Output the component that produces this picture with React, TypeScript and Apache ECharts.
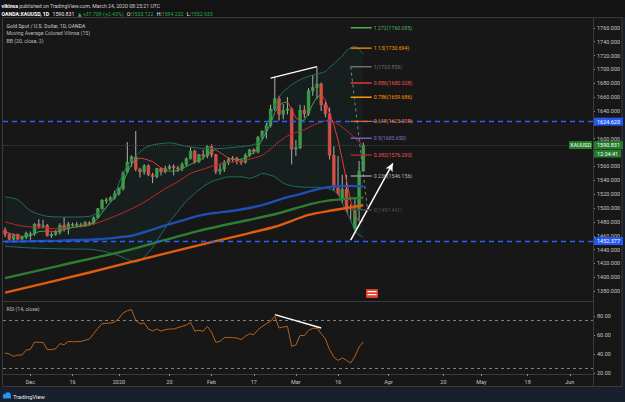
import React, { useEffect, useRef } from "react";
import * as echarts from "echarts";

const FONT = 'Roboto, "Noto Sans", "DejaVu Sans", sans-serif';
const BG = "#171717";

// ---------- categories: daily bars (weekdays, no bar on these days)
const FIRST_DAY = "2019-11-22";
const NO_BAR_DAYS = ["2019-12-25", "2020-01-01"];
const BAR_SLOTS = 140;

function tradingDays(): string[] {
  const out: string[] = [];
  const d = new Date(FIRST_DAY + "T00:00:00Z");
  while (out.length < BAR_SLOTS) {
    const wd = d.getUTCDay();
    const s = d.toISOString().slice(0, 10);
    if (wd !== 0 && wd !== 6 && NO_BAR_DAYS.indexOf(s) < 0) out.push(s);
    d.setUTCDate(d.getUTCDate() + 1);
  }
  return out;
}
const dates = tradingDays();

const timeTicks: Record<string, string> = {
  "2019-12-02": "Dec", "2019-12-16": "16", "2020-01-02": "2020", "2020-01-20": "20",
  "2020-02-03": "Feb", "2020-02-17": "17", "2020-03-02": "Mar", "2020-03-16": "16",
  "2020-04-01": "Apr", "2020-04-20": "20", "2020-05-01": "May", "2020-05-18": "18",
  "2020-06-01": "Jun",
};

// ---------- OHLC (XAUUSD daily)
const opens = [
  1468, 1462, 1455, 1462, 1455, 1458, 1460, 1463, 1477, 1474,
  1475, 1460, 1462, 1465, 1475, 1470, 1476, 1476, 1476, 1474,
  1479, 1478, 1486, 1499, 1510, 1511, 1515, 1521, 1528, 1552,
  1566, 1574, 1556, 1552, 1561, 1548, 1545, 1557, 1552, 1557,
  1560, 1558, 1557, 1563, 1571, 1582, 1567, 1577, 1575, 1589,
  1577, 1553, 1556, 1566, 1570, 1572, 1568, 1566, 1576, 1584,
  1581, 1602, 1611, 1619, 1644, 1658, 1635, 1641, 1643, 1585,
  1587, 1641, 1636, 1669, 1674, 1679, 1649, 1636, 1576, 1529,
  1514, 1527, 1478, 1470, 1498, 1553.122,
];
const highs = [
  1472, 1464, 1463, 1463, 1460, 1466, 1466, 1478, 1484, 1483,
  1477, 1465, 1468, 1478, 1487, 1480, 1479, 1480, 1479, 1481,
  1481, 1488, 1500, 1513, 1515, 1517, 1525, 1530, 1553, 1595,
  1576, 1611, 1558, 1563, 1563, 1551, 1558, 1558, 1561, 1563,
  1563, 1561, 1566, 1573, 1588, 1584, 1578, 1584, 1591, 1592,
  1578, 1563, 1569, 1573, 1575, 1574, 1571, 1579, 1585, 1586,
  1604, 1612, 1623, 1649, 1689, 1662, 1650, 1660, 1645, 1598,
  1649, 1648, 1673, 1692, 1704, 1681, 1653, 1645, 1589, 1575,
  1548, 1548, 1505, 1516, 1568, 1594.232,
];
const lows = [
  1458, 1452, 1452, 1454, 1454, 1455, 1454, 1460, 1470, 1471,
  1459, 1457, 1460, 1462, 1466, 1462, 1473, 1472, 1472, 1473,
  1474, 1476, 1485, 1498, 1506, 1508, 1512, 1518, 1525, 1550,
  1560, 1553, 1544, 1548, 1546, 1536, 1543, 1547, 1550, 1555,
  1547, 1552, 1553, 1560, 1570, 1564, 1565, 1570, 1572, 1573,
  1549, 1548, 1552, 1562, 1566, 1563, 1562, 1564, 1574, 1578,
  1579, 1598, 1600, 1616, 1640, 1626, 1628, 1635, 1563, 1575,
  1585, 1630, 1633, 1662, 1657, 1640, 1631, 1570, 1504, 1452.377,
  1467, 1470, 1460, 1466, 1482, 1552.933,
];
const closes = [
  1462, 1455, 1462, 1455, 1458, 1464, 1463, 1477, 1474, 1475,
  1460, 1462, 1465, 1475, 1470, 1477, 1476.5, 1476.5, 1474, 1479,
  1478, 1486, 1499, 1511, 1512, 1515, 1521, 1528, 1551, 1566,
  1574, 1556, 1552, 1561, 1548, 1545, 1557, 1552, 1557, 1560,
  1558, 1557, 1563, 1571, 1582, 1567, 1577, 1575, 1589, 1577,
  1553, 1556, 1566, 1570, 1572, 1568, 1566, 1576, 1584, 1581,
  1602, 1611, 1619, 1643, 1658, 1635, 1641, 1643, 1585, 1587,
  1641, 1636, 1669, 1674, 1679, 1649, 1636, 1576, 1529, 1514,
  1527, 1478, 1470, 1498, 1553.122, 1590.831,
];

// ---------- RSI (14, close)
const rsi = [
  41.0, 40.0, 37.5, 38.9, 38.9, 44.2, 44.9, 52.6, 52.3, 52.3,
  44.6, 44.6, 45.6, 50.9, 49.8, 53.3, 53.0, 53.0, 53.3, 54.4,
  55.8, 61.4, 67.0, 71.9, 72.3, 72.6, 73.7, 77.5, 83.2, 85.6,
  86.7, 75.4, 71.9, 72.6, 66.3, 64.2, 66.3, 64.2, 65.6, 66.3,
  66.3, 67.7, 69.1, 70.5, 73.3, 64.2, 64.9, 63.9, 69.1, 62.8,
  52.3, 53.3, 57.2, 57.5, 57.2, 56.8, 55.1, 58.6, 61.4, 60.3,
  65.6, 69.1, 71.9, 74.4, 79.6, 67.4, 68.4, 69.1, 48.1, 49.5,
  59.6, 59.3, 64.9, 67.0, 67.4, 61.4, 55.8, 44.6, 36.8, 33.3,
  35.8, 33.3, 30.5, 37.5, 47.4, 52.6,
];

// ---------- indicator lines: [bar index, price]
const bbUpper: [number, number][] = [
  [0, 1516], [3, 1512], [6, 1496], [10, 1488], [15, 1487], [20, 1488], [22, 1493], [24, 1501],
  [26, 1520], [27, 1536], [28, 1550], [29, 1561], [31, 1575], [33, 1586], [35, 1591], [37, 1593],
  [39, 1594], [41, 1592], [43, 1589], [47, 1586], [51, 1586], [55, 1588], [58, 1590], [60, 1594],
  [61, 1602], [62, 1616], [63, 1634], [64, 1648], [65, 1660], [66, 1668], [67, 1673], [68, 1678],
  [70, 1685], [72, 1690], [74, 1693], [76, 1697], [77, 1703], [78, 1708], [79, 1714], [80, 1719],
  [81, 1727], [82, 1731], [83, 1733], [84, 1729], [85, 1722],
];
const bbBasis: [number, number][] = [
  [0, 1480], [4, 1474], [8, 1472], [12, 1470], [16, 1472], [20, 1475], [23, 1481], [26, 1488],
  [29, 1496], [32, 1505], [35, 1516], [38, 1528], [41, 1538], [44, 1550], [47, 1556], [50, 1562],
  [53, 1566], [56, 1568], [59, 1572], [61, 1576], [63, 1585], [65, 1596], [67, 1604], [69, 1609],
  [71, 1613], [73, 1619], [75, 1624], [77, 1627], [79, 1621], [81, 1612], [83, 1601], [85, 1590],
];
const bbLower: [number, number][] = [
  [0, 1445], [4, 1443], [8, 1442], [14, 1441], [20, 1440.5], [23, 1438], [25, 1435], [27, 1431],
  [29, 1426], [31, 1422], [32, 1424], [33, 1429], [35, 1443], [37, 1462], [39, 1480], [41, 1495],
  [43, 1510], [45, 1521], [47, 1531], [49, 1538], [51, 1542], [53, 1545], [56, 1545], [58, 1543],
  [60, 1547], [61, 1550], [62, 1549], [64, 1545], [66, 1536], [68, 1532], [71, 1530], [74, 1530],
  [76, 1529], [78, 1525], [79, 1519], [80, 1507], [81, 1494], [82, 1482], [83, 1467], [84, 1461],
  [85, 1458],
];
const maColored: [number, number][] = [
  [0, 1466], [2, 1462], [4, 1459], [6, 1460], [8, 1466], [10, 1467], [12, 1466], [14, 1469],
  [16, 1472], [18, 1474], [20, 1476], [21, 1479], [22, 1485], [23, 1493], [24, 1501], [25, 1508],
  [26, 1515], [27, 1524], [28, 1537], [29, 1551], [30, 1563], [31, 1570], [32, 1572], [33, 1571],
  [35, 1567], [37, 1558], [39, 1553], [41, 1554], [43, 1560], [45, 1566], [47, 1572], [49, 1582],
  [50, 1584], [51, 1580], [53, 1572], [55, 1569], [57, 1572], [59, 1580], [60, 1588], [61, 1598],
  [62, 1610], [63, 1622], [64, 1638], [65, 1648], [66, 1652], [67, 1653], [68, 1642], [69, 1630],
  [70, 1626], [71, 1627], [72, 1637], [73, 1650], [74, 1660], [75, 1663], [76, 1656], [77, 1636],
  [78, 1620], [79, 1598], [80, 1570], [81, 1540], [82, 1510], [83, 1490], [84, 1480], [85, 1482],
];
const maBlue: [number, number][] = [
  [0, 1451.5], [13, 1453], [22, 1455], [26, 1457], [30, 1460], [34, 1467], [38, 1475], [42, 1482],
  [46, 1489], [50, 1493], [54, 1496], [58, 1500], [62, 1506], [66, 1514], [70, 1520], [74, 1527],
  [78, 1531], [82, 1532], [85, 1531],
];
const maGreen: [number, number][] = [
  [0, 1399], [13, 1417], [29, 1439], [38, 1454], [46, 1467], [54, 1478], [64, 1491], [72, 1505],
  [77, 1511], [85, 1515],
];
const maOrange: [number, number][] = [
  [0, 1378], [20, 1407], [41, 1439], [56, 1461], [64, 1473], [72, 1490], [77, 1496], [85, 1504],
];

// ---------- axes ticks (labels hidden behind the price tags are left out)
const priceTicks = [
  1380, 1400, 1420, 1440, 1460, 1480, 1500, 1520, 1540, 1560,
  1580, 1600, 1620, 1640, 1660, 1680, 1700, 1720, 1740, 1760,
];
const priceLabels = priceTicks.filter((v) => v !== 1580 && v !== 1620);
const rsiTicks = [20, 40, 60, 80];
const rsiBands = [75, 25];

// ---------- drawings
const resistanceLevel = 1624.62;
const supportLevel = 1452.377;
const fibLevels = ["1.272", "1.13", "1", "0.886", "0.786", "0.618", "0.5", "0.382", "0.236", "0"];
const fibPrices = [1760.085, 1730.694, 1703.859, 1680.328, 1659.686, 1625.008, 1600.65, 1576.293, 1546.156, 1497.441];
const fibLineColors = ["#4caf50", "#ff9800", "#6e6e6e", "#e53935", "#ff9800", "#e8681a", "#7e57c2", "#c62828", "#8f8f8f", "#4a4a4a"];
const fibTextColors = ["#4caf50", "#ff9800", "#6e6e6e", "#ef5350", "#ff9800", "#f07a22", "#8e6bd0", "#ef5350", "#b5b5b5", "#4f4f4f"];
const fibSpan = [82, 87];
const fibTrend: [number, number][] = [[82, 1703.859], [86, 1497.441]];
const wedgeTop: [number, number][] = [[63, 1687.3], [74, 1704]];
const arrowFrom: [number, number] = [82, 1453.7];
const arrowTo: [number, number] = [92, 1564.5];
const rsiDivergence: [number, number][] = [[64, 81.4], [75, 67.4]];

const UP = "#3f9b44";
const DOWN = "#e8453c";

function colorRuns(pts: [number, number][]) {
  const out: { up: boolean; pts: [number, number][] }[] = [];
  let curUp = pts[1][1] >= pts[0][1];
  let cur: [number, number][] = [pts[0]];
  for (let j = 1; j < pts.length; j++) {
    const up = pts[j][1] >= pts[j - 1][1];
    if (up !== curUp) {
      out.push({ up: curUp, pts: cur });
      cur = [pts[j - 1]];
      curUp = up;
    }
    cur.push(pts[j]);
  }
  out.push({ up: curUp, pts: cur });
  return out;
}

export default function App() {
  const ref = useRef<HTMLDivElement>(null);

  useEffect(() => {
    const el = ref.current!;
    const chart = echarts.init(el, null, { renderer: "svg" });
    const n = closes.length;
    const candleData = closes.map((c, i) => [i, opens[i], c, lows[i], highs[i]]);
    const showTick = (_: number, v: string) => timeTicks[v] !== undefined;

    const line = (data: any[], color: string, width: number, extra: any = {}) => ({
      type: "line", xAxisIndex: 0, yAxisIndex: 0, data, symbol: "none", silent: true,
      lineStyle: { color, width }, smooth: 0.25, ...extra,
    });

    const series: any[] = [
      line(bbUpper, "#1f6e69", 1, { areaStyle: { color: "rgba(32,150,140,0.09)", origin: "start" } }),
      line(bbLower, "#1f6e69", 1, { areaStyle: { color: BG, opacity: 1, origin: "start" } }),
      {
        type: "line", xAxisIndex: 0, yAxisIndex: 0, data: [], silent: true,
        markLine: {
          silent: true, symbol: ["none", "none"], label: { show: false },
          data: [
            { yAxis: resistanceLevel, lineStyle: { color: "#2962ff", width: 1.3, type: [5, 4] } },
            { yAxis: supportLevel, lineStyle: { color: "#2962ff", width: 1.3, type: [5, 4] } },
            { yAxis: closes[n - 1], lineStyle: { color: "#3e5a3e", width: 0.8, type: [1, 1] } },
          ],
        },
      },
      line(maOrange, "#e35d0e", 2.4),
      line(maGreen, "#2e7d32", 2.4),
      line(maBlue, "#1f4fb0", 2.4),
      {
        type: "custom", xAxisIndex: 0, yAxisIndex: 0, data: candleData,
        encode: { x: 0, y: [1, 2, 3, 4] }, silent: true,
        renderItem: (_p: any, api: any) => {
          const i = api.value(0);
          const o = api.value(1), c = api.value(2), l = api.value(3), h = api.value(4);
          const pO = api.coord([i, o]);
          const pC = api.coord([i, c]);
          const pL = api.coord([i, l]);
          const pH = api.coord([i, h]);
          const bw = api.size([1, 0])[0] * 0.66;
          const up = c >= o;
          const top = Math.min(pO[1], pC[1]);
          const hh = Math.max(1, Math.abs(pO[1] - pC[1]));
          return {
            type: "group",
            children: [
              { type: "line", shape: { x1: pO[0], y1: pH[1], x2: pO[0], y2: pL[1] }, style: { stroke: "#d8d8d8", lineWidth: 0.8 } },
              { type: "rect", shape: { x: pO[0] - bw / 2, y: top, width: bw, height: hh }, style: { fill: up ? UP : DOWN, stroke: up ? "#56b55a" : "#f06a62", lineWidth: 0.4 } },
            ],
          };
        },
      },
      line(bbBasis, "#c62828", 1),
      ...colorRuns(maColored).map((r) =>
        line(r.pts, r.up ? "#43a047" : "#e53935", 1, { smooth: false })
      ),
      ...fibLevels.map((lv, k) => ({
        type: "line", xAxisIndex: 0, yAxisIndex: 0, symbol: "none", silent: true,
        data: [[fibSpan[0], fibPrices[k]], [fibSpan[1], fibPrices[k]]],
        lineStyle: { color: fibLineColors[k], width: 1.4 },
        endLabel: {
          show: true, formatter: `${lv}(${fibPrices[k].toFixed(3)})`, color: fibTextColors[k],
          fontSize: 5.2, fontFamily: FONT, distance: 2,
        },
        z: 5,
      })),
      line(fibTrend, "#8a8a8a", 0.9, { smooth: false, lineStyle: { color: "#8a8a8a", width: 0.9, type: [3, 3] }, z: 5 }),
      line(wedgeTop, "#ffffff", 1.4, { smooth: false, z: 6 }),
      {
        type: "line", xAxisIndex: 0, yAxisIndex: 0, data: [], silent: true, z: 6,
        markLine: {
          silent: true, symbol: ["none", "arrow"], symbolSize: [6, 8], label: { show: false },
          lineStyle: { color: "#ffffff", width: 1.5, type: "solid" },
          data: [[{ coord: [dates[arrowFrom[0]], arrowFrom[1]] }, { coord: [dates[arrowTo[0]], arrowTo[1]] }]],
        },
      },
      // RSI pane
      {
        type: "line", xAxisIndex: 1, yAxisIndex: 1, data: rsi, symbol: "none", silent: true,
        lineStyle: { color: "#b8621b", width: 1 },
        markLine: {
          silent: true, symbol: ["none", "none"], label: { show: false },
          lineStyle: { color: "#9a9a9a", width: 0.8, type: [3, 3] },
          data: rsiBands.map((b) => ({ yAxis: b })),
        },
      },
      {
        type: "line", xAxisIndex: 1, yAxisIndex: 1, data: rsiDivergence, symbol: "none", silent: true,
        lineStyle: { color: "#ffffff", width: 1.4 },
      },
    ];

    chart.setOption({
      animation: false,
      backgroundColor: BG,
      textStyle: { fontFamily: FONT },
      grid: [
        { left: 3, right: 32, top: 18, height: 283 },
        { left: 3, right: 32, top: 303, height: 71 },
      ],
      xAxis: [
        {
          type: "category", gridIndex: 0, data: dates, boundaryGap: true,
          axisLine: { show: true, lineStyle: { color: "#3b3b3b" } },
          axisTick: { show: false }, axisLabel: { show: false }, splitLine: { show: false },
        },
        {
          type: "category", gridIndex: 1, data: dates, boundaryGap: true,
          axisLine: { show: true, lineStyle: { color: "#3b3b3b" } },
          axisTick: { show: true, interval: showTick, length: 2, alignWithLabel: true, lineStyle: { color: "#8a8a8a" } },
          axisLabel: {
            interval: showTick, formatter: (v: string) => timeTicks[v] || "",
            color: "#c4c4c4", fontSize: 5.5, fontFamily: FONT, margin: 5,
          },
          splitLine: { show: false },
        },
      ],
      yAxis: [
        {
          type: "value", gridIndex: 0, position: "right", min: 1365.9, max: 1774.1, scale: true,
          splitLine: { show: false },
          axisLine: { show: true, lineStyle: { color: "#3b3b3b" } },
          axisTick: { show: true, length: 2, customValues: priceTicks, lineStyle: { color: "#8a8a8a" } },
          axisLabel: {
            customValues: priceLabels, formatter: (v: number) => v.toFixed(3),
            color: "#c4c4c4", fontSize: 5.5, fontFamily: FONT, margin: 4,
          },
        },
        {
          type: "value", gridIndex: 1, position: "right", min: 18.95, max: 93.68,
          splitLine: { show: false },
          axisLine: { show: true, lineStyle: { color: "#3b3b3b" } },
          axisTick: { show: true, length: 2, customValues: rsiTicks, lineStyle: { color: "#8a8a8a" } },
          axisLabel: {
            customValues: rsiTicks, formatter: (v: number) => v.toFixed(2),
            color: "#c4c4c4", fontSize: 5.5, fontFamily: FONT, margin: 4,
          },
        },
      ],
      series,
    });

    // ---------- overlay texts and price tags
    const yOf = (v: number) => chart.convertToPixel({ yAxisIndex: 0 }, v) as number;
    const last = n - 1;
    const chg = closes[last] - closes[last - 1];
    const pct = (chg / closes[last - 1]) * 100;
    const tag = (v: number, text: string, fill: string, x = 594, w = 29, dy = 0) => [
      { type: "rect", z: 60, shape: { x, y: yOf(v) - 4 + dy, width: w, height: 8 }, style: { fill } },
      {
        type: "text", z: 61, x: x + w / 2, y: yOf(v) + dy,
        style: { text, fill: "#ffffff", fontSize: 5.5, fontFamily: FONT, align: "center", verticalAlign: "middle" },
      },
    ];
    const rich = (fill: string, bold = false) => ({ fill, fontSize: 5.2, fontFamily: FONT, fontWeight: bold ? "bold" : "normal" });

    const graphic: any[] = [
      { type: "rect", z: 1, shape: { x: 0, y: 0, width: 625, height: 17 }, style: { fill: "#131313" } },
      { type: "rect", z: 1, shape: { x: 0, y: 387, width: 625, height: 15 }, style: { fill: "#18202d" } },
      { type: "rect", z: 1, shape: { x: 622, y: 17, width: 3, height: 370 }, style: { fill: "#18202d" } },
      { type: "rect", z: 2, shape: { x: 2.5, y: 17.5, width: 619.5, height: 369 }, style: { fill: "none", stroke: "#3b3b3b", lineWidth: 1 } },
      { type: "line", z: 2, shape: { x1: 593.5, y1: 17.5, x2: 593.5, y2: 386.5 }, style: { stroke: "#3b3b3b", lineWidth: 1 } },
      {
        type: "text", z: 62, x: 1.5, y: 5.8,
        style: {
          text: "{a|vikinsa}{b| published on TradingView.com, March 24, 2020 08:25:21 UTC}",
          verticalAlign: "middle", rich: { a: rich("#ffffff", true), b: rich("#cfcfcf") },
        },
      },
      {
        type: "text", z: 62, x: 1.5, y: 14,
        style: {
          text:
            `{a|OANDA:XAUUSD, 1D} {b|${closes[last].toFixed(3)}} {g|▲ +${chg.toFixed(3)} (+${pct.toFixed(2)}%)} ` +
            `{b|O:}{g|${opens[last].toFixed(3)}} {b|H:}{g|${highs[last].toFixed(3)}} {b|L:}{g|${lows[last].toFixed(3)}}`,
          verticalAlign: "middle",
          rich: { a: rich("#ffffff", true), b: rich("#e6e6e6"), g: rich("#2ea84f") },
        },
      },
      { type: "text", z: 62, x: 6.5, y: 25.7, style: { text: "Gold Spot / U.S. Dollar, 1D, OANDA", fill: "#cfcfcf", fontSize: 5.2, fontFamily: FONT, verticalAlign: "middle" } },
      { type: "text", z: 62, x: 6.5, y: 33.2, style: { text: "Moving Average Colored Vilinsa (15)", fill: "#bdbdbd", fontSize: 5.2, fontFamily: FONT, verticalAlign: "middle" } },
      { type: "text", z: 62, x: 6.5, y: 40.6, style: { text: "BB (20, close, 2)", fill: "#bdbdbd", fontSize: 5.2, fontFamily: FONT, verticalAlign: "middle" } },
      { type: "text", z: 62, x: 6.5, y: 309, style: { text: "RSI (14, close)", fill: "#bdbdbd", fontSize: 5.2, fontFamily: FONT, verticalAlign: "middle" } },
      // event marker
      { type: "rect", z: 62, shape: { x: 366, y: 289, width: 12, height: 9, r: 1 }, style: { fill: "#e0402b" } },
      { type: "rect", z: 63, shape: { x: 367.5, y: 291, width: 9, height: 1.2 }, style: { fill: "#ffffff" } },
      { type: "rect", z: 63, shape: { x: 367.5, y: 294, width: 9, height: 1.2 }, style: { fill: "#ffffff" } },
      // footer logo
      { type: "circle", z: 62, shape: { cx: 5, cy: 396, r: 2.2 }, style: { fill: "#2196f3" } },
      { type: "circle", z: 62, shape: { cx: 8, cy: 395, r: 2.8 }, style: { fill: "#2196f3" } },
      { type: "rect", z: 62, shape: { x: 3, y: 396, width: 8, height: 2.4 }, style: { fill: "#2196f3" } },
      { type: "text", z: 62, x: 13, y: 396.5, style: { text: "TradingView", fill: "#e8e8e8", fontSize: 5.8, fontFamily: FONT, verticalAlign: "middle" } },
      ...tag(resistanceLevel, resistanceLevel.toFixed(3), "#2458f0"),
      ...tag(supportLevel, supportLevel.toFixed(3), "#2458f0"),
      ...tag(closes[last], closes[last].toFixed(3), "#237a28"),
      ...tag(closes[last], "XAUUSD", "#237a28", 569, 23),
      ...tag(closes[last], "12:34:41", "#237a28", 594, 27, 8.5),
    ];
    chart.setOption({ graphic });

    return () => chart.dispose();
  }, []);

  return <div ref={ref} style={{ position: "fixed", left: 0, top: 0, width: 625, height: 402 }} />;
}
